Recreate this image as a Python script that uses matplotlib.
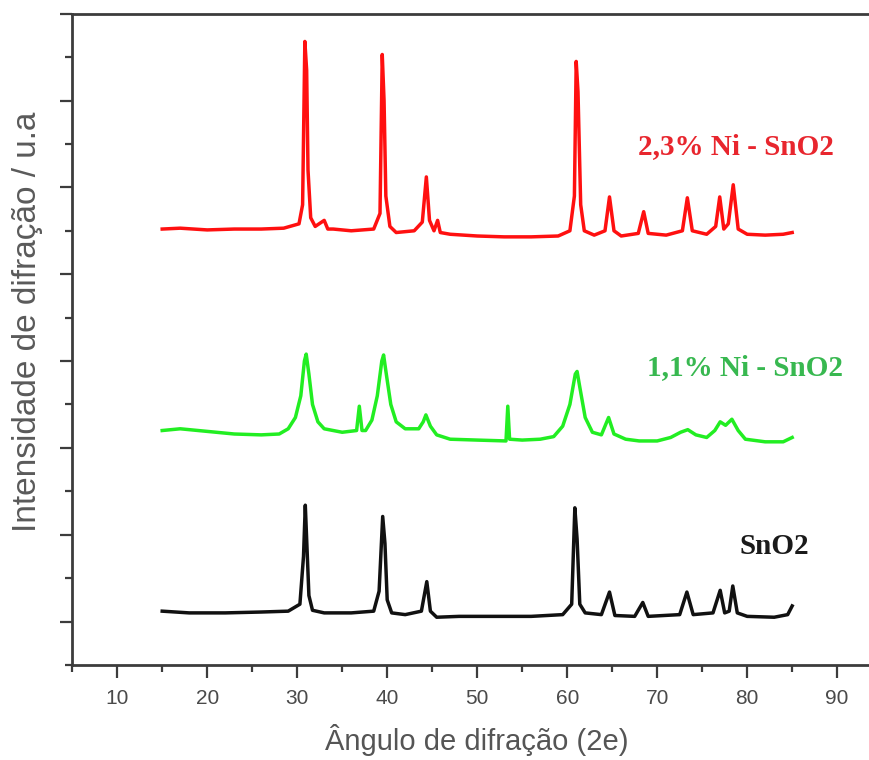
import matplotlib
matplotlib.use("Agg")
import matplotlib.pyplot as plt
from matplotlib.ticker import MultipleLocator, NullFormatter

# 2-theta positions and intensities (offset, arbitrary units)
ang_red = [15.0, 17.0, 20.0, 23.0, 26.0, 28.5, 30.2, 30.6, 30.85, 31.05, 31.2, 31.5, 32.0,
           33.0, 33.4, 34.0, 36.0, 38.5, 39.2, 39.45, 39.65, 39.85, 40.3, 41.0, 43.0, 43.9,
           44.35, 44.7, 45.2, 45.6, 45.9, 47.0, 50.0, 53.0, 56.0, 59.0, 60.3, 60.8, 61.0,
           61.2, 61.5, 61.9, 63.0, 64.2, 64.7, 65.2, 66.0, 67.9, 68.5, 69.0, 71.0, 72.8,
           73.35, 73.9, 75.5, 76.5, 76.95, 77.4, 77.9, 78.45, 79.0, 80.0, 82.0, 84.0, 85.0]
int_red = [4.52, 4.53, 4.51, 4.52, 4.52, 4.53, 4.58, 4.80, 6.68, 6.35, 5.20, 4.65, 4.55,
           4.62, 4.52, 4.52, 4.50, 4.52, 4.70, 6.53, 6.00, 4.90, 4.55, 4.48, 4.50, 4.60,
           5.12, 4.62, 4.50, 4.62, 4.48, 4.46, 4.44, 4.43, 4.43, 4.44, 4.50, 4.90, 6.45,
           6.10, 4.80, 4.50, 4.45, 4.50, 4.89, 4.50, 4.44, 4.47, 4.72, 4.47, 4.45, 4.50,
           4.88, 4.50, 4.46, 4.55, 4.89, 4.52, 4.58, 5.03, 4.52, 4.46, 4.45, 4.46, 4.48]

ang_green = [15.0, 17.0, 20.0, 23.0, 26.0, 28.0, 29.0, 29.8, 30.4, 30.8, 31.0, 31.3, 31.7,
             32.3, 33.0, 35.0, 36.6, 36.9, 37.2, 37.6, 38.3, 38.9, 39.4, 39.6, 39.9, 40.4,
             41.0, 42.0, 43.5, 44.0, 44.3, 44.8, 45.5, 47.0, 50.0, 53.2, 53.4, 53.6, 55.0,
             57.0, 58.5, 59.5, 60.3, 60.9, 61.1, 61.4, 62.0, 62.8, 63.8, 64.6, 65.2, 66.5,
             68.0, 70.0, 71.5, 72.6, 73.4, 74.3, 75.5, 76.4, 77.0, 77.6, 78.3, 79.0, 79.8,
             82.0, 84.0, 85.0]
int_green = [2.20, 2.22, 2.19, 2.16, 2.15, 2.16, 2.22, 2.35, 2.60, 3.00, 3.08, 2.85, 2.50,
             2.30, 2.22, 2.18, 2.20, 2.48, 2.20, 2.20, 2.32, 2.60, 3.00, 3.07, 2.85, 2.50,
             2.30, 2.22, 2.22, 2.30, 2.38, 2.25, 2.15, 2.10, 2.09, 2.08, 2.48, 2.10, 2.09,
             2.10, 2.13, 2.25, 2.50, 2.85, 2.88, 2.70, 2.35, 2.18, 2.15, 2.35, 2.16, 2.10,
             2.08, 2.08, 2.12, 2.18, 2.21, 2.15, 2.12, 2.20, 2.30, 2.26, 2.33, 2.20, 2.10,
             2.07, 2.07, 2.12]

ang_black = [15.0, 18.0, 22.0, 26.0, 29.0, 30.3, 30.7, 30.9, 31.05, 31.3, 31.7, 33.0, 36.0,
             38.5, 39.1, 39.5, 39.75, 40.0, 40.5, 42.0, 43.8, 44.4, 44.8, 45.5, 48.0, 52.0,
             56.0, 59.5, 60.5, 60.85, 61.1, 61.4, 62.0, 63.8, 64.7, 65.3, 67.5, 68.4, 69.0,
             72.5, 73.3, 74.0, 76.2, 77.0, 77.5, 78.0, 78.4, 78.9, 80.0, 83.0, 84.5, 85.0]
int_black = [0.12, 0.10, 0.10, 0.11, 0.12, 0.20, 0.75, 1.34, 0.95, 0.30, 0.13, 0.10, 0.10,
             0.12, 0.35, 1.21, 0.90, 0.25, 0.10, 0.08, 0.12, 0.46, 0.12, 0.05, 0.06, 0.06,
             0.06, 0.08, 0.20, 1.31, 0.95, 0.20, 0.10, 0.08, 0.34, 0.07, 0.06, 0.22, 0.06,
             0.08, 0.34, 0.08, 0.10, 0.36, 0.10, 0.12, 0.41, 0.10, 0.06, 0.05, 0.08, 0.18]

labels = ["2,3% Ni - SnO2", "1,1% Ni - SnO2", "SnO2"]

fig = plt.figure(figsize=(8.7, 7.6), dpi=100)
ax = fig.add_axes([0.083, 0.125, 0.931, 0.857])

ax.plot(ang_red, int_red, color="#ff1010", lw=2.5, solid_joinstyle="round")
ax.plot(ang_green, int_green, color="#22ee22", lw=2.5, solid_joinstyle="round")
ax.plot(ang_black, int_black, color="#111111", lw=2.5, solid_joinstyle="round")

ax.set_xlim(5, 95)
ax.set_ylim(-0.5, 7)

ax.xaxis.set_major_locator(MultipleLocator(10))
ax.xaxis.set_minor_locator(MultipleLocator(5))
ax.yaxis.set_major_locator(MultipleLocator(1))
ax.yaxis.set_minor_locator(MultipleLocator(0.5))
ax.yaxis.set_major_formatter(NullFormatter())

axc = "#3c3c3c"
for s in ax.spines.values():
    s.set_color(axc)
    s.set_linewidth(2)
ax.spines["right"].set_visible(False)
ax.tick_params(which="major", direction="out", length=9, width=1.6, color=axc,
               labelsize=15, labelcolor="#4a4a4a", pad=8)
ax.tick_params(which="minor", direction="out", length=5, width=1.6, color=axc)
for t in ax.get_xticklabels():
    t.set_family("Liberation Sans")

serif = dict(family="Liberation Serif", weight="bold", fontsize=21, va="center")
ax.text(67.9, 5.47, labels[0], color="#e8262e", **serif)
ax.text(68.9, 2.92, labels[1], color="#38b850", **serif)
ax.text(79.2, 0.87, labels[2], color="#1a1a1a", **serif)

fig.text(477 / 870, 1 - 740 / 760, "Ângulo de difração (2e)", family="Liberation Sans",
         fontsize=21, color="#555555", ha="center", va="center")
fig.text(28 / 870, 1 - 322 / 760, "Intensidade de difração / u.a", family="Liberation Sans",
         fontsize=24, color="#5a5a5a", ha="center", va="center", rotation=90)

fig.savefig("out.png", dpi=100)
